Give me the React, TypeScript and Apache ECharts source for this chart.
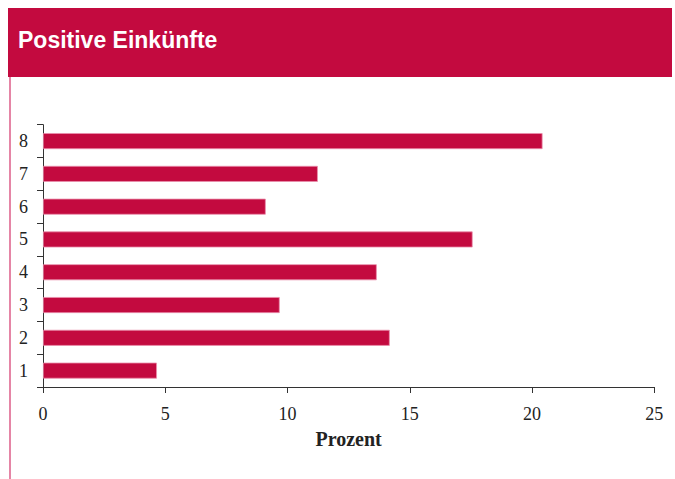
import React, { useEffect, useRef } from "react";
import * as echarts from "echarts";

const categories = ["1", "2", "3", "4", "5", "6", "7", "8"];
const values = [4.66, 14.18, 9.68, 13.65, 17.57, 9.11, 11.24, 20.43];
const xTicks = [0, 5, 10, 15, 20, 25];
const titleText = "Positive Einkünfte";
const axisName = "Prozent";

const RED = "#c30a3f";

export default function App() {
  const ref = useRef<HTMLDivElement>(null);
  useEffect(() => {
    if (!ref.current) return;
    const chart = echarts.init(ref.current, null, { renderer: "svg" });
    chart.setOption({
      animation: false,
      backgroundColor: "#ffffff",
      graphic: [
        {
          type: "rect",
          shape: { x: 8, y: 8, width: 664, height: 69 },
          style: { fill: RED },
          silent: true,
        },
        {
          type: "line",
          shape: { x1: 10, y1: 77, x2: 10, y2: 479 },
          style: { stroke: "#e585a6", lineWidth: 2 },
          silent: true,
        },
        {
          type: "text",
          style: {
            text: titleText,
            x: 18,
            y: 40,
            fill: "#ffffff",
            font: 'bold 23px "Liberation Sans", Arial, sans-serif',
            verticalAlign: "middle",
          },
          silent: true,
        },
      ],
      grid: { left: 43, right: 20.7, top: 124.7, bottom: 92 },
      xAxis: {
        type: "value",
        min: xTicks[0],
        max: xTicks[xTicks.length - 1],
        interval: 5,
        name: axisName,
        nameLocation: "middle",
        nameGap: 42,
        nameTextStyle: {
          fontFamily: '"Liberation Serif", serif',
          fontWeight: "bold",
          fontSize: 20,
          color: "#222",
        },
        axisLine: { show: true, lineStyle: { color: "#333", width: 1 } },
        axisTick: { show: true, inside: false, length: 6, lineStyle: { color: "#333" } },
        axisLabel: {
          margin: 18,
          fontFamily: '"Liberation Serif", serif',
          fontSize: 18,
          color: "#222",
        },
        splitLine: { show: false },
      },
      yAxis: {
        type: "category",
        data: categories,
        axisLine: { show: true, lineStyle: { color: "#333", width: 1 } },
        axisTick: { show: true, inside: false, length: 6, lineStyle: { color: "#333" } },
        axisLabel: {
          margin: 15,
          fontFamily: '"Liberation Serif", serif',
          fontSize: 18,
          color: "#222",
        },
        splitLine: { show: false },
      },
      series: [
        {
          type: "bar",
          data: values,
          barWidth: 16,
          itemStyle: { color: RED, borderColor: "#ea8fac", borderWidth: 0.8 },
        },
      ],
    });
    return () => chart.dispose();
  }, []);
  return (
    <div
      ref={ref}
      style={{ position: "fixed", left: 0, top: 0, width: 675, height: 479 }}
    />
  );
}
